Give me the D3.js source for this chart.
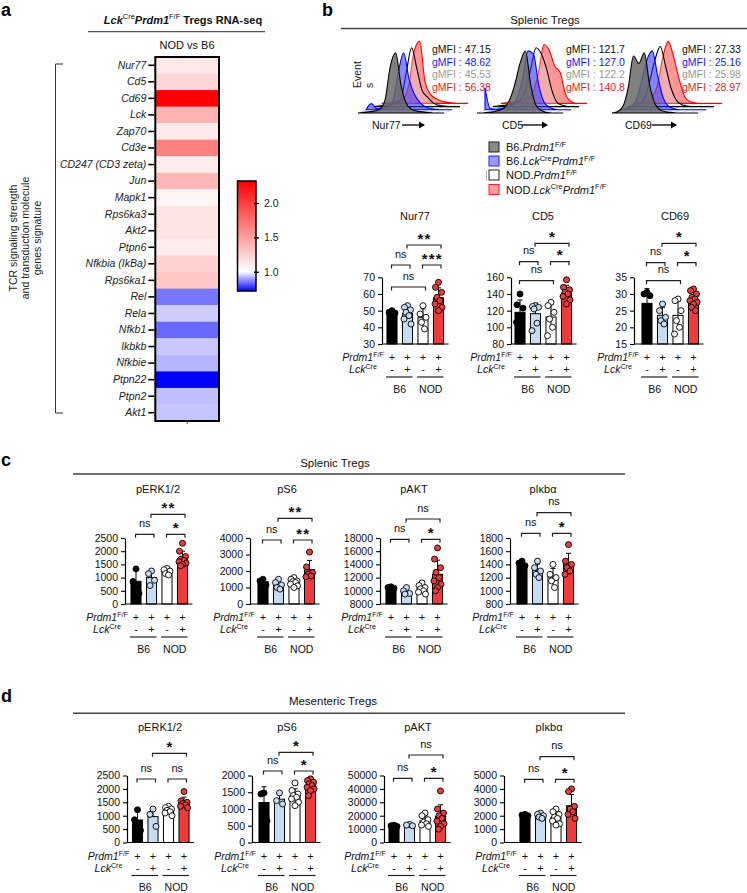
<!DOCTYPE html>
<html><head><meta charset="utf-8">
<script src="https://cdn.jsdelivr.net/npm/d3@7"></script>
<style>
body{margin:0;background:#fff}
svg{display:block;font-family:"Liberation Sans",Arial,Helvetica,sans-serif}
</style></head><body>
<svg id="fig" width="747" height="893"></svg>
<script>
// ================= DATA =================
const genes = ["Nur77","Cd5","Cd69","Lck","Zap70","Cd3e","CD247 (CD3 zeta)","Jun","Mapk1","Rps6ka3","Akt2","Ptpn6","Nfkbia (IkBa)","Rps6ka1","Rel","Rela","Nfkb1","Ikbkb","Nfkbie","Ptpn22","Ptpn2","Akt1"];
const foldChange = [1.12,1.21,2.32,1.40,1.11,1.66,1.10,1.38,1.05,1.14,1.14,1.10,1.24,1.29,0.85,0.945,0.835,0.94,0.92,0.72,0.93,0.935];
const colorbarTicks = [1.0,1.5,2.0];
const sideLabel = ["TCR signaling strength","and transduction molecule","genes signature"];

const histMarkers = ["Nur77","CD5","CD69"];
// histogram heights (normalised) per group: B6.Prdm1, B6.LckCre, NOD.Prdm1, NOD.LckCre
const histNur77 = [
  [0,0.01,0.02,0.03,0.06,0.2,0.75,0.97,0.45,0.15,0.06,0.03,0.02,0.01,0,0,0],
  [0,0.1,0.02,0.03,0.05,0.15,0.6,0.92,0.5,0.25,0.12,0.05,0.02,0.01,0,0,0],
  [0,0.01,0.02,0.03,0.05,0.12,0.55,0.95,0.6,0.25,0.15,0.06,0.02,0.01,0,0,0],
  [0,0.01,0.02,0.03,0.08,0.3,0.85,1.0,0.35,0.15,0.08,0.04,0.02,0.01,0,0,0]
];
const histCD5 = [
  [0,0,0.01,0.02,0.04,0.08,0.2,0.45,0.8,1.0,0.45,0.12,0.04,0.01,0,0,0],
  [0.35,0.02,0.01,0.02,0.04,0.08,0.2,0.5,0.95,0.9,0.4,0.12,0.04,0.01,0,0,0],
  [0,0.01,0.02,0.03,0.05,0.1,0.25,0.6,0.95,0.85,0.6,0.25,0.06,0.02,0,0,0],
  [0,0.01,0.02,0.03,0.05,0.1,0.2,0.5,0.95,0.85,0.6,0.5,0.15,0.03,0,0,0]
];
const histCD69 = [
  [0,0.02,0.1,0.4,0.92,0.8,0.97,0.45,0.15,0.05,0.02,0.01,0,0,0,0,0],
  [0,0.02,0.05,0.15,0.45,0.8,0.95,0.55,0.2,0.06,0.02,0,0,0,0,0,0],
  [0,0.01,0.04,0.12,0.4,0.75,0.97,0.65,0.3,0.1,0.03,0.01,0,0,0,0,0],
  [0,0.01,0.03,0.1,0.3,0.75,1.0,0.75,0.4,0.12,0.03,0.01,0,0,0,0,0]
];
const gmfiNur77 = ["47.15","48.62","45.53","56.38"];
const gmfiCD5 = ["121.7","127.0","122.2","140.8"];
const gmfiCD69 = ["27.33","25.16","25.98","28.97"];

const legendLabels = [
  [["B6.",""],["Prdm1","i"],["F/F","s"]],
  [["B6.",""],["Lck","i"],["Cre","s"],["Prdm1","i"],["F/F","s"]],
  [["NOD.",""],["Prdm1","i"],["F/F","s"]],
  [["NOD.",""],["Lck","i"],["Cre","s"],["Prdm1","i"],["F/F","s"]]
];
const prdmRow = ["+","+","+","+"];
const lckRow = ["-","+","-","+"];
const strainLabels = ["B6","NOD"];

// panel b bar data
const nur77Vals = [[50,49,48.5,47],[53,52,50.5,49,47,45,42],[53,48,46,43,39],[67,64,61,58,56,54,52,50]];
const cd5Vals = [[140,127,123,112,100,106],[126,125,124,122,105,96],[130,126,118,110,100,90],[157,148,145,142,140,137,133,128]];
const cd69Vals = [[30.5,30,29.5,26,20],[27,25,23,22,21],[28.5,28,25,22,20,18],[31.5,31,30,29,28.5,28,27.5,27,26,25]];
const nur77Ticks = [30,40,50,60,70];
const cd5Ticks = [80,100,120,140,160];
const cd69Ticks = [15,20,25,30,35];
const nur77Sig = [["ns",0,1,1],["***",2,3,1],["ns",0,2,0],["**",1,3,2]];
const cd5Sig = [["ns",0,1,1],["*",2,3,1],["ns",0,2,0],["*",1,3,2]];
const cd69Sig = [["ns",0,1,1],["*",2,3,1],["ns",0,2,0],["*",1,3,2]];

// panel c (splenic)
const cErk = [[1330,850,400],[1250,1150,900,700],[1350,1300,1250,1150,1100],[2300,2000,1800,1700,1650,1600,1550,1500,1450]];
const cS6 = [[1500,1400,1150],[1500,1300,1150,1000,900],[1600,1500,1400,1350,1300,1200,1100,1000],[3150,2250,1900,1800,1700,1650]];
const cAkt = [[10600,10500,10400],[10500,10000,9600,9500],[11200,10800,10500,10300,10000,9800,9500],[16500,14800,13500,12800,12000,11500,11000,10500,10000]];
const cIkb = [[1450,1420,1380,1350],[1450,1350,1300,1250,1200],[1400,1250,1200,1150,1050],[1700,1450,1400,1350,1300,1250]];
const cErkTicks = [0,500,1000,1500,2000,2500];
const cS6Ticks = [0,1000,2000,3000,4000];
const cAktTicks = [8000,10000,12000,14000,16000,18000];
const cIkbTicks = [800,1000,1200,1400,1600,1800];
const cErkSig = [["ns",0,1,0],["*",2,3,0],["**",1,3,1]];
const cS6Sig = [["ns",0,1,0],["**",2,3,0],["**",1,3,1]];
const cAktSig = [["ns",0,1,0],["*",2,3,0],["ns",1,3,1]];
const cIkbSig = [["ns",0,1,0],["*",2,3,0],["ns",1,3,1]];

// panel d (mesenteric)
const dErk = [[1220,850,450],[1250,1050,600],[1350,1300,1250,1200,1150,1100,1000],[1900,1550,1500,1450,1400,1350,1300]];
const dS6 = [[1480,1450,650],[1480,1250,1150],[1780,1550,1450,1400,1350,1300,1200,1100],[1900,1850,1800,1750,1700,1650,1600,1550,1400]];
const dAkt = [[13000,12500,12000],[13500,13000,12500],[22000,20000,17000,15000,14000,13000,12000],[38500,25000,22000,20000,18000,16000,14000,12000,10000]];
const dIkb = [[2100,2050,2000,1950],[2200,2100,2000,1900,1800],[2500,2300,2100,1900,1800,1600,1400,1300],[4000,3800,2700,2500,2300,2100,1800]];
const dErkTicks = [0,500,1000,1500,2000,2500];
const dS6Ticks = [0,500,1000,1500,2000];
const dAktTicks = [0,10000,20000,30000,40000,50000];
const dIkbTicks = [0,1000,2000,3000,4000,5000];
const dErkSig = [["ns",0,1,0],["ns",2,3,0],["*",1,3,1]];
const dS6Sig = [["ns",0,1,0],["*",2,3,0],["*",1,3,1]];
const dAktSig = [["ns",0,1,0],["*",2,3,0],["ns",1,3,1]];
const dIkbSig = [["ns",0,1,0],["*",2,3,0],["ns",1,3,1]];

// ================= DRAWING =================
const svg = d3.select("#fig");
svg.append("rect").attr("width",747).attr("height",893).attr("fill","#fff");

function rich(t, parts, fs){
  let shift = 0;
  parts.forEach(([s,st])=>{
    const sp = t.append("tspan").text(s);
    const target = st.includes("s") ? -fs*0.38 : 0;
    sp.attr("dy", target-shift); shift = target;
    if (st.includes("s")) sp.attr("font-size", fs*0.68);
    if (st.includes("i")) sp.attr("font-style","italic");
    if (st.includes("b")) sp.attr("font-weight","bold");
  });
}
function txt(x,y,s,opt={}){
  const fs = opt.fs||11;
  const t = svg.append("text").attr("x",x).attr("y",y).attr("font-size",fs)
    .attr("text-anchor",opt.anchor||"start").attr("fill",opt.fill||"#111");
  if (opt.bold) t.attr("font-weight","bold");
  if (opt.italic) t.attr("font-style","italic");
  if (opt.ls) t.attr("letter-spacing",opt.ls);
  if (typeof s === "string") t.text(s); else rich(t,s,fs);
  return t;
}
function line(x1,y1,x2,y2,stroke="#111",w=1){
  return svg.append("line").attr("x1",x1).attr("y1",y1).attr("x2",x2).attr("y2",y2)
    .attr("stroke",stroke).attr("stroke-width",w);
}

// ---- panel letters
txt(1,16,"a",{fs:18,bold:true,fill:"#000"});
txt(322,16,"b",{fs:18,bold:true,fill:"#000"});
txt(1,466,"c",{fs:18,bold:true,fill:"#000"});
txt(1,702,"d",{fs:18,bold:true,fill:"#000"});

// ================= PANEL A =================
txt(183,23.5,[["Lck","bi"],["Cre","s"],["Prdm1","bi"],["F/F","s"],[" Tregs RNA-seq","b"]],{fs:11,anchor:"middle"});
line(88,31.7,265,31.7,"#555",1.2);
txt(187,49,"NOD vs B6",{fs:11,anchor:"middle"});

const hmX0 = 155.3, hmX1 = 219, hmY0 = 57, hmY1 = 421;
const yGene = d3.scaleBand().domain(genes).range([hmY0,hmY1]);
const fcMin = d3.min(foldChange), fcMax = d3.max(foldChange);
const heatColor = d3.scaleLinear().domain([fcMin,1,fcMax]).range(["#0000ff","#ffffff","#ff0000"]);
svg.append("g").selectAll("rect").data(genes).join("rect")
  .attr("x",hmX0).attr("width",hmX1-hmX0)
  .attr("y",d=>yGene(d)).attr("height",yGene.bandwidth()+0.3)
  .attr("fill",(d,i)=>heatColor(foldChange[i]));
svg.append("rect").attr("x",hmX0).attr("y",hmY0).attr("width",hmX1-hmX0).attr("height",hmY1-hmY0)
  .attr("fill","none").attr("stroke","#000").attr("stroke-width",2);
const gAxisGenes = svg.append("g").attr("transform",`translate(${hmX0-1},0)`)
  .call(d3.axisLeft(yGene).tickSize(6).tickPadding(2).tickSizeOuter(0));
gAxisGenes.select(".domain").remove();
gAxisGenes.selectAll(".tick line").attr("stroke","#000").attr("stroke-width",1.6);
gAxisGenes.selectAll(".tick text").attr("font-size",10.5).attr("font-style","italic")
  .attr("fill","#222").attr("font-family",'"Liberation Sans",Arial,sans-serif');
line((hmX0+hmX1)/2,hmY1,(hmX0+hmX1)/2,hmY1+3,"#555",1);

// side bracket + label
svg.append("path").attr("d",`M63,64 H55.5 V413 H63`).attr("fill","none").attr("stroke","#333").attr("stroke-width",1);
sideLabel.forEach((s,i)=>{
  svg.append("text").attr("transform",`translate(${16.5+i*12.3},238) rotate(-90)`)
    .attr("text-anchor","middle").attr("font-size",10.5).attr("fill","#222").text(s);
});

// colour bar
const cbX = 237.5, cbW = 18.5, cbTop = 181, cbBot = 291;
const cbScale = d3.scaleLinear().domain([fcMin,fcMax]).range([cbBot,cbTop]);
const grad = svg.append("defs").append("linearGradient").attr("id","cbgrad")
  .attr("x1",0).attr("y1",1).attr("x2",0).attr("y2",0);
[fcMin,1,fcMax].forEach(v=>{
  grad.append("stop").attr("offset",(v-fcMin)/(fcMax-fcMin)).attr("stop-color",heatColor(v));
});
svg.append("rect").attr("x",cbX).attr("y",cbTop).attr("width",cbW).attr("height",cbBot-cbTop)
  .attr("fill","url(#cbgrad)").attr("stroke","#000").attr("stroke-width",1.5);
const cbAxis = svg.append("g").attr("transform",`translate(${cbX+cbW-2},0)`)
  .call(d3.axisRight(cbScale).tickValues(colorbarTicks).tickFormat(d3.format(".1f")).tickSize(5).tickPadding(5));
cbAxis.select(".domain").remove();
cbAxis.selectAll(".tick line").attr("stroke","#000").attr("stroke-width",1.4);
cbAxis.selectAll(".tick text").attr("font-size",10.5).attr("fill","#222").attr("font-family",'"Liberation Sans",Arial,sans-serif');

// ================= PANEL B: histograms =================
txt(545,24,"Splenic Tregs",{fs:11.5,anchor:"middle"});
line(341,28.5,747,28.5,"#444",1.5);

const histSets = [histNur77,histCD5,histCD69];
const gmfiSets = [gmfiNur77,gmfiCD5,gmfiCD69];
const histX0 = [358,477,612];
const gmfiX = [432,566,682];
const gmfiColors = ["#111","#1a1aff","#9a9a9a","#e02424"];
const layerStyle = [
  {fill:"#6a6a6a",op:0.85,stroke:"#000"},
  {fill:"#2a2aff",op:0.55,stroke:"#0000ff"},
  {fill:"#d8d8d8",op:0.35,stroke:"#000"},
  {fill:"#ff3030",op:0.5,stroke:"#ff0000"}
];
const hBase = 113, hdx = 8, hdy = 3.2, hW = 86, hH = 62;
histSets.forEach((set,m)=>{
  const x0 = histX0[m];
  for (let j=0;j<=10;j++){
    const xx = x0 + j*hW/10;
    line(xx,hBase,xx+3*hdx,hBase-3*hdy,"#b5b5b5",0.5);
  }
  for (let k=3;k>=0;k--){
    const xs = d3.scaleLinear().domain([0,set[k].length-1]).range([x0+k*hdx, x0+k*hdx+hW]);
    const b = hBase - k*hdy;
    const area = d3.area().x((d,i)=>xs(i)).y0(b).y1(d=>b-d*hH).curve(d3.curveMonotoneX);
    const st = layerStyle[k];
    svg.append("path").attr("d",area(set[k])).attr("fill",st.fill).attr("fill-opacity",st.op)
      .attr("stroke",st.stroke).attr("stroke-width",1.1);
  }
  gmfiSets[m].forEach((v,i)=>{
    txt(gmfiX[m],53+i*12.5,"gMFI : "+v,{fs:10.5,fill:gmfiColors[i]});
  });
});
const arrowSpecs = [[372,402,425],[502,522,548],[625,652,677]];
histMarkers.forEach((mk,m)=>{
  const [tx,a0,a1] = arrowSpecs[m];
  txt(tx,129,mk,{fs:10.5});
  line(a0,125,a1-4,125,"#000",1.3);
  svg.append("path").attr("d",`M${a1},125 L${a1-6},121.5 L${a1-6},128.5 Z`).attr("fill","#000");
});
svg.append("text").attr("transform","translate(360.5,88) rotate(-90)").attr("font-size",10.5).attr("fill","#222").text("Event");
svg.append("text").attr("transform","translate(373,88) rotate(-90)").attr("font-size",10.5).attr("fill","#222").text("s");

// legend
const legendFill = ["#8a8a8a","#9a9aff","#ffffff","#ff9a9a"];
const legendStroke = ["#222","#2222ff","#222","#ff2222"];
const legY = [147,161,175,189.5];
legendLabels.forEach((lab,i)=>{
  svg.append("rect").attr("x",489).attr("y",legY[i]-5).attr("width",10).attr("height",10)
    .attr("fill",legendFill[i]).attr("stroke",legendStroke[i]).attr("stroke-width",1);
  txt(506,legY[i]+4,lab,{fs:11});
});
line(486.5,170,486.5,181,"#bbb",1);

// ================= BAR CHART FUNCTION =================
const barFill = ["#000000","#c6dcf2","#ffffff","#ee3b3b"];
const dotFill = ["#000000","#c6dcf2","#ffffff","#ee3b3b"];
const jitter = [0,-3,3,-1.5,1.5,-3.5,3.5,0,-2,2];
function barChart(cfg){
  const step = 15.5, pad = 0.35;
  const left = cfg.bar1 - step*(1+pad)/2;
  const x = d3.scaleBand().domain(d3.range(4)).range([left,left+step*(4+pad)]).paddingInner(pad).paddingOuter(pad);
  const bw = x.bandwidth();
  const cx = i => x(i)+bw/2;
  const y = d3.scaleLinear().domain(d3.extent(cfg.ticks)).range([cfg.yBot,cfg.yTop]);
  const g = svg.append("g");
  txt(cfg.titleX,cfg.titleY,cfg.title,{fs:11,anchor:"middle"});
  cfg.data.forEach((vals,i)=>{
    const m = d3.mean(vals), sd = d3.deviation(vals);
    g.append("rect").attr("x",x(i)).attr("y",y(m)).attr("width",bw).attr("height",cfg.yBot-y(m))
      .attr("fill",barFill[i]).attr("stroke","#000").attr("stroke-width",1);
    g.append("line").attr("x1",cx(i)).attr("x2",cx(i)).attr("y1",y(m)).attr("y2",y(m+sd)).attr("stroke","#000").attr("stroke-width",1);
    g.append("line").attr("x1",cx(i)-2.5).attr("x2",cx(i)+2.5).attr("y1",y(m+sd)).attr("y2",y(m+sd)).attr("stroke","#000").attr("stroke-width",1);
    if (i===2){
      g.append("line").attr("x1",cx(i)).attr("x2",cx(i)).attr("y1",y(m)).attr("y2",y(Math.max(m-sd,cfg.ticks[0]))).attr("stroke","#000").attr("stroke-width",1);
    }
  });
  cfg.data.forEach((vals,i)=>{
    g.selectAll(null).data(vals).join("circle")
      .attr("cx",(d,k)=>cx(i)+jitter[k%jitter.length]).attr("cy",d=>y(d)).attr("r",3)
      .attr("fill",dotFill[i]).attr("stroke","#000").attr("stroke-width",0.9);
  });
  const ax = g.append("g").attr("transform",`translate(${cfg.axisX},0)`)
    .call(d3.axisLeft(y).tickValues(cfg.ticks).tickSize(4).tickSizeOuter(0).tickPadding(3).tickFormat(d3.format("d")));
  ax.select(".domain").attr("stroke","#000").attr("stroke-width",1.2);
  ax.selectAll(".tick line").attr("stroke","#000").attr("stroke-width",1.1);
  ax.selectAll(".tick text").attr("font-size",10.5).attr("fill","#111").attr("font-family",'"Liberation Sans",Arial,sans-serif');
  g.append("line").attr("x1",cfg.axisX).attr("x2",x(3)+bw+5).attr("y1",cfg.yBot).attr("y2",cfg.yBot)
    .attr("stroke","#000").attr("stroke-width",1.2);
  cfg.sig.forEach(([lab,a,b,lv])=>{
    const yy = cfg.levels[lv];
    const xa = cx(a)-0.5, xb = cx(b)+2.5;
    g.append("path").attr("d",`M${xa},${yy+3.5} V${yy} H${xb} V${yy+3.5}`)
      .attr("fill","none").attr("stroke","#222").attr("stroke-width",1.2);
    if (lab==="ns") txt((xa+xb)/2,yy-7.5,"ns",{fs:11,anchor:"middle"});
    else txt((xa+xb)/2+0.5,yy-1.5,lab,{fs:15,anchor:"middle",ls:"1.2px",bold:true});
  });
  const lx = cfg.bar1 - 29;
  txt(lx,cfg.yBot+17,[["Prdm1","i"],["F/F","s"]],{fs:10.5,anchor:"middle"});
  txt(lx,cfg.yBot+29,[["Lck","i"],["Cre","s"]],{fs:10.5,anchor:"middle"});
  for (let i=0;i<4;i++){
    txt(cx(i),cfg.yBot+17,prdmRow[i],{fs:11,anchor:"middle"});
    txt(cx(i),cfg.yBot+29,lckRow[i],{fs:11,anchor:"middle"});
  }
  [[0,1],[2,3]].forEach(([a,b],j)=>{
    line(cx(a)-6,cfg.yBot+33,cx(b)+5,cfg.yBot+33,"#222",1.2);
    txt((cx(a)+cx(b))/2,cfg.yBot+48.5,strainLabels[j],{fs:10.5,anchor:"middle"});
  });
}

// ---- panel b bar charts
const bTop = 277.3, bBot = 344;
barChart({title:"Nur77",titleX:415,titleY:220,axisX:382,bar1:392,ticks:nur77Ticks,yTop:bTop,yBot:bBot,data:nur77Vals,sig:nur77Sig,levels:[287,265,245]});
barChart({title:"CD5",titleX:543,titleY:220,axisX:511,bar1:520,ticks:cd5Ticks,yTop:bTop,yBot:bBot,data:cd5Vals,sig:cd5Sig,levels:[280.7,261.7,243.3]});
barChart({title:"CD69",titleX:675,titleY:220,axisX:634,bar1:647,ticks:cd69Ticks,yTop:bTop,yBot:bBot,data:cd69Vals,sig:cd69Sig,levels:[280.7,262.7,243.3]});

// ================= PANEL C =================
txt(335,467,"Splenic Tregs",{fs:11.5,anchor:"middle"});
line(73,474,625,474,"#444",1.5);
const cTop = 538, cBot = 604, cTY = 493;
barChart({title:"pERK1/2",titleX:158,titleY:cTY,axisX:125,bar1:136,ticks:cErkTicks,yTop:cTop,yBot:cBot,data:cErk,sig:cErkSig,levels:[534.3,514.3]});
barChart({title:"pS6",titleX:287,titleY:cTY,axisX:250,bar1:263,ticks:cS6Ticks,yTop:cTop,yBot:cBot,data:cS6,sig:cS6Sig,levels:[540,518.3]});
barChart({title:"pAKT",titleX:414,titleY:cTY,axisX:380,bar1:391,ticks:cAktTicks,yTop:cTop,yBot:cBot,data:cAkt,sig:cAktSig,levels:[539.3,519]});
barChart({title:"pIκbα",titleX:543,titleY:cTY,axisX:510,bar1:522,ticks:cIkbTicks,yTop:cTop,yBot:cBot,data:cIkb,sig:cIkbSig,levels:[533.3,512.7]});

// ================= PANEL D =================
txt(333,704.5,"Mesenteric Tregs",{fs:11.5,anchor:"middle"});
line(73,713.3,625,713.3,"#444",1.5);
const dTop = 775.5, dBot = 842.5, dTY = 730.5;
barChart({title:"pERK1/2",titleX:160,titleY:dTY,axisX:127,bar1:137.5,ticks:dErkTicks,yTop:dTop,yBot:dBot,data:dErk,sig:dErkSig,levels:[779,753.3]});
barChart({title:"pS6",titleX:287,titleY:dTY,axisX:252,bar1:264,ticks:dS6Ticks,yTop:dTop,yBot:dBot,data:dS6,sig:dS6Sig,levels:[771,752.3]});
barChart({title:"pAKT",titleX:418,titleY:dTY,axisX:384,bar1:394,ticks:dAktTicks,yTop:dTop,yBot:dBot,data:dAkt,sig:dAktSig,levels:[778.3,755]});
barChart({title:"pIκbα",titleX:549,titleY:dTY,axisX:504,bar1:525,ticks:dIkbTicks,yTop:dTop,yBot:dBot,data:dIkb,sig:dIkbSig,levels:[779.3,756.7]});
</script>
</body></html>
